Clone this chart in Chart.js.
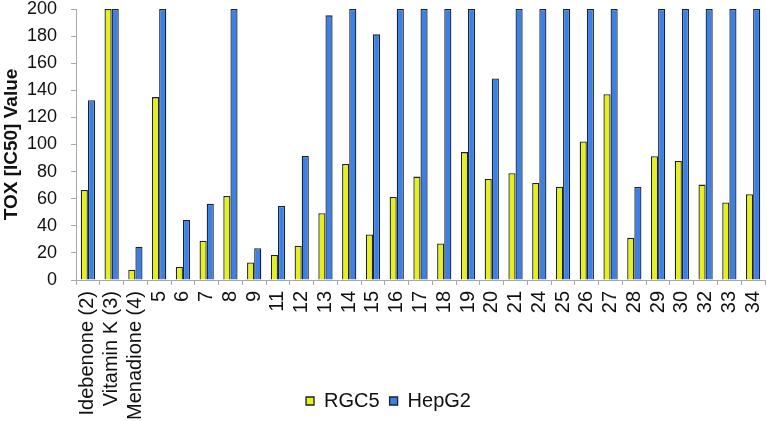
<!DOCTYPE html>
<html>
<head>
<meta charset="utf-8">
<script src="https://cdn.jsdelivr.net/npm/chart.js@4.4.1/dist/chart.umd.min.js"></script>
<style>
  html, body { margin: 0; padding: 0; background: #fff; }
  #wrap { width: 767px; height: 421px; }
</style>
</head>
<body>
<div id="wrap"><canvas id="myChart"></canvas></div>
<script>
'use strict';

// compound labels along the x axis
const compounds = ['Idebenone (2)', 'Vitamin K (3)', 'Menadione (4)', '5', '6', '7', '8', '9',
  '11', '12', '13', '14', '15', '16', '17', '18', '19', '20', '21', '24', '25', '26', '27',
  '28', '29', '30', '32', '33', '34'];

// TOX [IC50] values (200 = top of axis)
const rgc5 = [66.5, 200, 7.6, 135, 9.8, 29, 62, 13, 18.4, 25.3, 49.3, 85.6, 33.6, 61.3, 76.3,
  27, 94.4, 74.6, 78.8, 71.6, 68.9, 102.3, 137.1, 31.1, 91.3, 87.8, 70.4, 57.2, 63.3];
const hepg2 = [132.7, 200, 24.5, 200, 44.2, 56.2, 200, 23.5, 54.7, 91.5, 195.3, 200, 181.3, 200, 200,
  200, 200, 148.7, 200, 200, 200, 200, 200, 68.7, 200, 200, 200, 200, 200];

const yMin = 0;
const yMax = 200;
const yStep = 20;

const font = "'Liberation Sans', Arial, sans-serif";
const axisGrey = '#a3a9b0';

// let the rotated x labels run down past the legend line (they sit left of it),
// and nudge the legend a little right like in the original
const labelRoom = {
  id: 'labelRoom',
  afterLayout(chart) {
    chart.scales.x.bottom = chart.height;
    chart.legend.left += 6;
    chart.legend.right += 6;
  }
};

let ctx = document.getElementById('myChart').getContext('2d');
new Chart(ctx, {
  type: 'bar',
  data: {
    labels: compounds,
    datasets: [{
      label: 'RGC5',
      data: rgc5,
      backgroundColor: '#e6f01e',
      borderColor: '#1b222b',
      borderWidth: 1.3,
      barPercentage: 1.0,
      categoryPercentage: 0.6
    }, {
      label: 'HepG2',
      data: hepg2,
      backgroundColor: '#3a80e6',
      borderColor: '#1b222b',
      borderWidth: 1.3,
      barPercentage: 1.0,
      categoryPercentage: 0.6
    }]
  },
  options: {
    responsive: true,
    maintainAspectRatio: false,
    animation: false,
    layout: { padding: { left: 0, right: 2, top: 9, bottom: 0 } },
    plugins: {
      tooltip: { enabled: false },
      legend: {
        position: 'bottom',
        labels: {
          boxWidth: 8,
          boxHeight: 8,
          padding: 10,
          color: '#111',
          font: { family: font, size: 20 }
        }
      }
    },
    scales: {
      x: {
        grid: { display: true, drawOnChartArea: false, drawTicks: true, tickLength: 5, color: axisGrey },
        border: { color: axisGrey },
        ticks: {
          minRotation: 90,
          maxRotation: 90,
          autoSkip: false,
          padding: 6,
          color: '#111',
          font: { family: font, size: 20 }
        },
        afterFit: (scale) => {
          scale.height = 101;
          scale.paddingLeft = 0;
          scale.paddingRight = 0;
        }
      },
      y: {
        min: yMin,
        max: yMax,
        grid: { display: true, drawOnChartArea: false, drawTicks: true, tickLength: 5, color: axisGrey },
        border: { color: axisGrey },
        ticks: {
          stepSize: yStep,
          padding: 14,
          color: '#111',
          font: { family: font, size: 18 }
        },
        title: {
          display: true,
          text: 'TOX [IC50] Value',
          color: '#111',
          padding: { top: 0, bottom: 0 },
          font: { family: font, size: 19, weight: 'bold' }
        },
        afterFit: (scale) => {
          scale.width = 76;
          scale.paddingTop = 0;
          scale.paddingBottom = 0;
        }
      }
    }
  },
  plugins: [labelRoom]
});
</script>
</body>
</html>
